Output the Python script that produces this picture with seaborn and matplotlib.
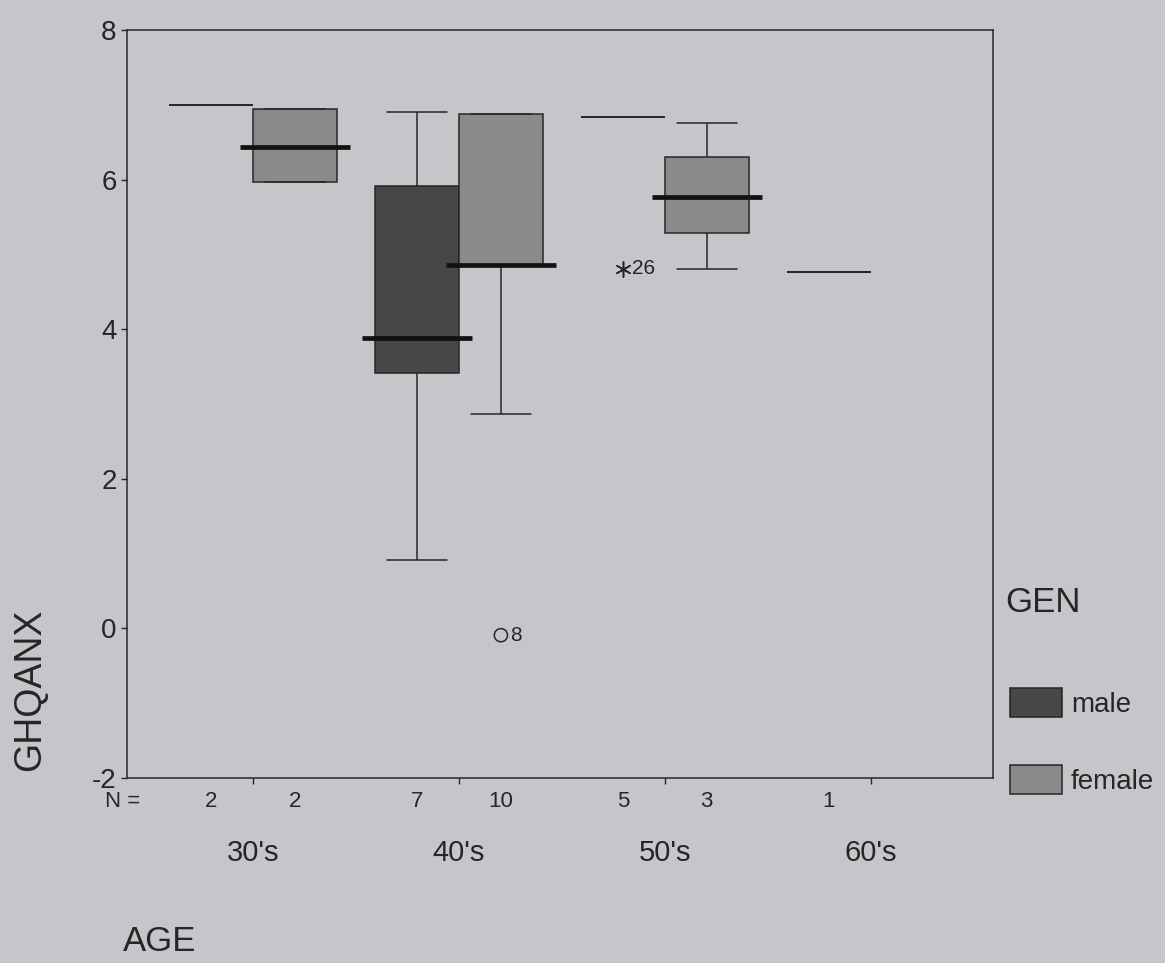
import numpy as np
import pandas as pd
import seaborn as sns
import matplotlib.pyplot as plt

# --- Data ---
ages = ["30's", "40's", "50's", "60's"]
genders = ["male", "female"]

# one entry per drawn box (age group x gender)
group_age = ["30's", "30's", "40's", "40's", "50's", "50's", "60's"]
group_gen = ["male", "female", "male", "female", "male", "female", "male"]
n_counts = [2, 2, 7, 10, 5, 3, 1]

# five-number summaries (lower whisker, Q1, median, Q3, upper whisker)
box_low = [7.00, 5.96, 0.92, 2.87, 6.83, 4.81, 4.76]
box_q1 = [7.00, 5.96, 3.42, 4.86, 6.83, 5.29, 4.76]
box_med = [7.00, 6.43, 3.88, 4.86, 6.83, 5.76, 4.76]
box_q3 = [7.00, 6.94, 5.91, 6.87, 6.83, 6.30, 4.76]
box_high = [7.00, 6.94, 6.90, 6.87, 6.83, 6.76, 4.76]

# outliers (o) and extremes (*) with their case numbers
out_age = ["40's", "50's"]
out_gen = ["female", "male"]
out_val = [-0.09, 4.81]
out_case = ["8", "26"]
out_kind = ["outlier", "extreme"]

# --- Styling ---
BG = "#c5c6ca"
INK = "#262626"
MALE_COL = "#474747"
FEMALE_COL = "#8a8a8a"
BOX_W = 0.816          # total width for the two hue boxes
HALF = BOX_W / 4       # offset of each hue box from the category centre

sns.set_theme(style="ticks")
plt.rcParams['font.family'] = ['Liberation Sans', 'DejaVu Sans']
plt.rcParams['axes.unicode_minus'] = False
plt.rcParams['text.color'] = INK
plt.rcParams['axes.labelcolor'] = INK
plt.rcParams['xtick.color'] = INK
plt.rcParams['ytick.color'] = INK

rows = []
for i in range(len(group_age)):
    for v in (box_low[i], box_q1[i], box_med[i], box_q3[i], box_high[i]):
        rows.append({"AGE": group_age[i], "GEN": group_gen[i], "GHQANX": v})
df = pd.DataFrame(rows)

fig = plt.figure(figsize=(11.65, 9.63), dpi=100, facecolor=BG)
ax = fig.add_axes([0.109, 0.192, 0.743, 0.777])
ax.set_facecolor(BG)

sns.boxplot(data=df, x="AGE", y="GHQANX", hue="GEN", order=ages, hue_order=genders,
            palette={"male": MALE_COL, "female": FEMALE_COL}, saturation=1,
            width=BOX_W, gap=0, whis=1.5, showfliers=False,
            linecolor=INK, linewidth=1.1,
            medianprops=dict(color="#111111", linewidth=3.4),
            whiskerprops=dict(color=INK, linewidth=1.1),
            capprops=dict(color=INK, linewidth=1.1),
            ax=ax)

# SPSS look: thick medians that overhang the box, collapsed boxes as thin lines,
# and caps a bit wider than seaborn's default
med_ext = 0.063
cap_w = 0.71 * BOX_W / 2
for cont in ax.containers:
    if not hasattr(cont, "medians"):
        continue
    for box, med in zip(cont.boxes, cont.medians):
        ys = box.get_path().vertices[:, 1]
        xd = np.asarray(med.get_xdata(), dtype=float)
        if np.ptp(ys) < 1e-6:
            med.set_linewidth(1.3)
            med.set_color(INK)
        else:
            med.set_xdata([xd.min() - med_ext, xd.max() + med_ext])
    for cap in cont.caps:
        c = np.mean(np.asarray(cap.get_xdata(), dtype=float))
        cap.set_xdata([c - cap_w / 2, c + cap_w / 2])

# outliers and extremes
offset = {"male": -HALF, "female": HALF}
for kind, marker, size in [("outlier", "o", 90), ("extreme", (6, 2, 0), 120)]:
    xs = [ages.index(a) + offset[g] for a, g, k in zip(out_age, out_gen, out_kind) if k == kind]
    ys = [v for v, k in zip(out_val, out_kind) if k == kind]
    sns.scatterplot(x=xs, y=ys, marker=marker, s=size, color=INK, linewidth=1.1, ax=ax, zorder=5)
    if kind == "outlier":
        ax.collections[-1].set_facecolor("none")
        ax.collections[-1].set_edgecolor(INK)
for a, g, v, c in zip(out_age, out_gen, out_val, out_case):
    ax.text(ages.index(a) + offset[g] + 0.045, v, c, fontsize=15, ha="left", va="center")

# axes
ax.set_xlim(-0.612, 3.592)
ax.set_ylim(-2, 8)
ax.set_yticks([-2, 0, 2, 4, 6, 8])
ax.tick_params(axis="y", labelsize=20, length=4.5, width=1.0, pad=3)
ax.tick_params(axis="x", labelsize=21, length=4.5, width=1.0, pad=39)
for sp in ax.spines.values():
    sp.set_visible(True)
    sp.set_color(INK)
    sp.set_linewidth(1.1)

ax.set_ylabel("GHQANX", fontsize=27)
ax.yaxis.set_label_coords(-0.112, 0.118)
ax.yaxis.label.set_va("center")
ax.set_xlabel("AGE", fontsize=25)
ax.xaxis.set_label_coords(-0.005, -0.219)
ax.xaxis.label.set_ha("left")
ax.xaxis.label.set_va("center")

# N = row
n_y = -0.031
ax.text(-0.025, n_y, "N =", transform=ax.transAxes, fontsize=16, ha="left", va="center")
for a, g, n in zip(group_age, group_gen, n_counts):
    ax.text(ages.index(a) + offset[g], n_y, str(n), transform=ax.get_xaxis_transform(),
            fontsize=16, ha="center", va="center")

# legend on the right
old = ax.get_legend()
handles = old.legend_handles
labels = [t.get_text() for t in old.get_texts()]
old.remove()
ax.legend(handles, labels, loc="lower left", bbox_to_anchor=(1010 / 1165, 1 - 795 / 963),
          bbox_transform=fig.transFigure, frameon=False, fontsize=20,
          handlelength=1.87, handleheight=1.26, labelspacing=1.69,
          handletextpad=0.32, borderpad=0, borderaxespad=0)
fig.text(1005 / 1165, 1 - 603 / 963, "GEN", fontsize=25, ha="left", va="center")

fig.savefig("out.png", dpi=100, facecolor=BG)
